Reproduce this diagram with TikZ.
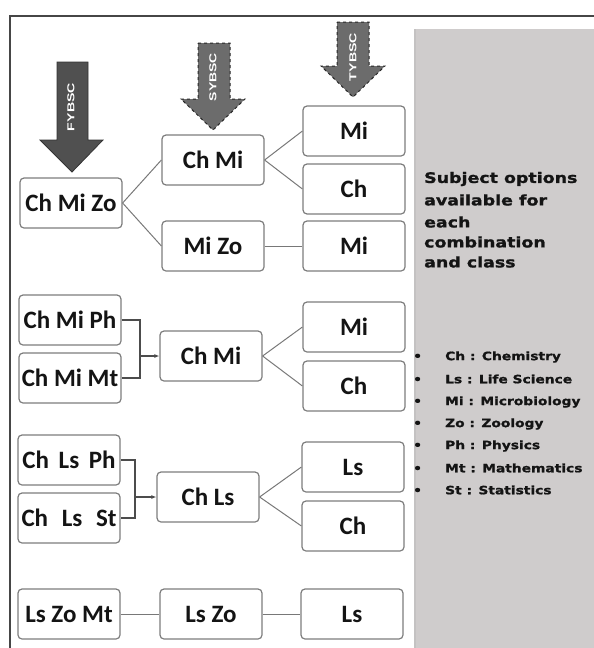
\documentclass[tikz,border=0pt]{standalone}
\usepackage{fontspec}
\setmainfont{Carlito}
\newfontfamily\panelfont{DejaVu Sans}[FakeStretch=1.2,FakeBold=1.2]
\newfontfamily\arrowfont{Liberation Sans}
\usetikzlibrary{arrows.meta}
\definecolor{boxline}{RGB}{125,125,125}
\definecolor{connline}{RGB}{120,120,120}
\definecolor{panelgray}{RGB}{207,204,204}
\definecolor{paneledge}{RGB}{196,194,194}
\definecolor{fyfill}{RGB}{80,80,80}
\definecolor{syfill}{RGB}{108,108,108}
\definecolor{frameline}{RGB}{70,70,70}
\definecolor{txt}{RGB}{20,20,20}
\tikzset{
  box/.style={draw=boxline, line width=1.2pt, rounded corners=4pt, fill=white,
    minimum width=102pt, minimum height=50pt, inner sep=0pt,
    font=\fontsize{25}{27}\selectfont\bfseries, text=txt},
  conn/.style={draw=connline, line width=1pt},
  brk/.style={draw=black!70, line width=1.1pt},
  tip/.style={-{Latex[length=5pt,width=4pt]}},
  blockfy/.style={fill=fyfill, draw=black!80, line width=0.8pt},
  blocksy/.style={fill=syfill, draw=black!85, line width=1pt, dashed},
  arrlabel/.style={rotate=90, text=white, inner sep=0pt},
  paneltitle/.style={anchor=west, inner sep=0pt, text=txt,
    font=\panelfont\bfseries\fontsize{14.5}{16}\selectfont},
  panelitem/.style={anchor=west, inner sep=0pt, text=txt,
    font=\panelfont\bfseries\fontsize{11.5}{13}\selectfont}
}
\begin{document}
\begin{tikzpicture}[x=1pt,y=-1pt]
\useasboundingbox (0,0) rectangle (594,648);
% frame and panel
\fill[panelgray] (414,29) rectangle (594,648);
\draw[paneledge, line width=2pt] (415,29) -- (415,648);
\draw[frameline, line width=1.5pt] (10,648) -- (10,16) -- (594,16);

% block arrows
\draw[blockfy] (57,62) -- (88,62) -- (88,140) -- (103,140) -- (72,172) -- (40,140) -- (57,140) -- cycle;
\node[arrlabel] (fy) at (71,107) {\resizebox{48pt}{7pt}{\arrowfont\bfseries FYBSC}};
\draw[blocksy] (198,43) -- (230,43) -- (230,99) -- (245,99) -- (213,130) -- (181,99) -- (198,99) -- cycle;
\node[arrlabel] (sy) at (213,77) {\resizebox{48pt}{7pt}{\arrowfont\bfseries SYBSC}};
\draw[blocksy] (337,22) -- (369,22) -- (369,66) -- (385,66) -- (353,97) -- (321,66) -- (337,66) -- cycle;
\node[arrlabel] (ty) at (353,57) {\resizebox{48pt}{7pt}{\arrowfont\bfseries TYBSC}};

% group 1
\node[box] (cmz) at (71,203) {Ch Mi Zo};
\node[box] (s1) at (213,160) {Ch Mi};
\node[box] (s2) at (213,246) {Mi Zo};
\node[box] (t1) at (354,131) {Mi};
\node[box] (t2) at (354,189) {Ch};
\node[box] (t3) at (354,246) {Mi};
\draw[conn] (cmz.east) -- (s1.west);
\draw[conn] (cmz.east) -- (s2.west);
\draw[conn] (s1.east) -- (t1.west);
\draw[conn] (s1.east) -- (t2.west);
\draw[conn] (s2.east) -- (t3.west);

% group 2
\node[box] (cmp) at (70,320) {Ch Mi Ph};
\node[box] (cmm) at (70,378) {Ch Mi Mt};
\node[box] (s3) at (211,356) {Ch Mi};
\node[box] (t4) at (354,327) {Mi};
\node[box] (t5) at (354,386) {Ch};
\coordinate (j1) at (140,356);
\draw[brk] (cmp.east) -| (j1 |- cmm.east) -- (cmm.east);
\draw[brk, tip] (j1) -- (s3.west);
\draw[conn] (s3.east) -- (t4.west);
\draw[conn] (s3.east) -- (t5.west);

% group 3
\node[box] (clp) at (69,460) {Ch\hspace{4pt} Ls\hspace{4pt} Ph};
\node[box] (cls) at (69,518) {Ch\hspace{8pt} Ls\hspace{8pt} St};
\node[box] (s4) at (208,497) {Ch Ls};
\node[box] (t6) at (353,467) {Ls};
\node[box] (t7) at (353,526) {Ch};
\coordinate (j2) at (135,497);
\draw[brk] (clp.east) -| (j2 |- cls.east) -- (cls.east);
\draw[brk, tip] (j2) -- (s4.west);
\draw[conn] (s4.east) -- (t6.west);
\draw[conn] (s4.east) -- (t7.west);

% group 4
\node[box] (lzm) at (69,614) {Ls Zo Mt};
\node[box] (s5) at (211,614) {Ls Zo};
\node[box] (t8) at (352,614) {Ls};
\draw[conn] (lzm.east) -- (s5.west);
\draw[conn] (s5.east) -- (t8.west);

% panel text
\node[paneltitle] (p1) at (424,179) {Subject options};
\node[paneltitle] (p2) at (424,200) {available for};
\node[paneltitle] (p3) at (424,222) {each};
\node[paneltitle] (p4) at (424,242) {combination};
\node[paneltitle] (p5) at (424,262) {and class};

\node[panelitem] (b1) at (413,357) {\makebox[32pt][l]{•}Ch : Chemistry};
\node[panelitem] (b2) at (413,379) {\makebox[32pt][l]{•}Ls : Life Science};
\node[panelitem] (b3) at (413,402) {\makebox[32pt][l]{•}Mi : Microbiology};
\node[panelitem] (b4) at (413,424) {\makebox[32pt][l]{•}Zo : Zoology};
\node[panelitem] (b5) at (413,446) {\makebox[32pt][l]{•}Ph : Physics};
\node[panelitem] (b6) at (413,468) {\makebox[32pt][l]{•}Mt : Mathematics};
\node[panelitem] (b7) at (413,490) {\makebox[32pt][l]{•}St : Statistics};
\end{tikzpicture}
\end{document}
